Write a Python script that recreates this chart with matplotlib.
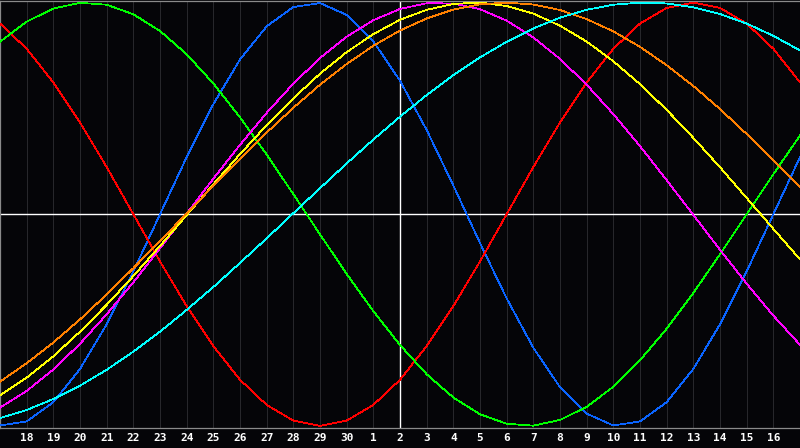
import matplotlib.pyplot as plt
import numpy as np

# day labels along the bottom (one per grid line)
day_labels = ['18', '19', '20', '21', '22', '23', '24', '25', '26', '27', '28', '29', '30',
              '1', '2', '3', '4', '5', '6', '7', '8', '9', '10', '11', '12', '13', '14', '15', '16']
today = '2'

# daily cycle values, left edge to right edge (31 days)
physical = [-0.998, -0.979, -0.888, -0.731, -0.520, -0.270, 0.000, 0.270, 0.520, 0.731, 0.888,
            0.979, 0.998, 0.942, 0.817, 0.631, 0.398, 0.136, -0.136, -0.398, -0.631, -0.817,
            -0.942, -0.998, -0.979, -0.888, -0.731, -0.520, -0.270, 0.000, 0.270]
emotional = [0.901, 0.782, 0.623, 0.434, 0.223, 0.000, -0.223, -0.434, -0.623, -0.782, -0.901,
             -0.975, -1.000, -0.975, -0.901, -0.782, -0.623, -0.434, -0.223, 0.000, 0.223, 0.434,
             0.623, 0.782, 0.901, 0.975, 1.000, 0.975, 0.901, 0.782, 0.623]
intellectual = [0.815, 0.910, 0.972, 0.999, 0.990, 0.945, 0.866, 0.756, 0.618, 0.458, 0.282,
                0.095, -0.095, -0.282, -0.458, -0.618, -0.756, -0.866, -0.945, -0.990, -0.999,
                -0.972, -0.910, -0.815, -0.690, -0.541, -0.372, -0.189, 0.000, 0.189, 0.372]
intuitive = [-0.914, -0.835, -0.734, -0.612, -0.473, -0.322, -0.161, 0.003, 0.168, 0.328, 0.479,
             0.617, 0.738, 0.839, 0.917, 0.970, 0.997, 0.996, 0.969, 0.915, 0.835, 0.734,
             0.612, 0.473, 0.322, 0.161, -0.003, -0.168, -0.328, -0.479, -0.617]
aesthetic = [-0.856, -0.772, -0.671, -0.555, -0.428, -0.292, -0.150, -0.004, 0.141, 0.284, 0.421,
             0.548, 0.664, 0.766, 0.851, 0.919, 0.966, 0.994, 1.000, 0.984, 0.948, 0.891,
             0.816, 0.723, 0.615, 0.493, 0.361, 0.222, 0.077, -0.069, -0.213]
awareness = [-0.791, -0.704, -0.606, -0.497, -0.379, -0.255, -0.127, 0.004, 0.134, 0.263, 0.386,
             0.503, 0.612, 0.710, 0.796, 0.868, 0.925, 0.967, 0.992, 1.000, 0.991, 0.965,
             0.922, 0.864, 0.791, 0.704, 0.606, 0.497, 0.379, 0.255, 0.127]
spiritual = [-0.963, -0.925, -0.873, -0.810, -0.735, -0.649, -0.555, -0.452, -0.344, -0.230, -0.114,
             0.005, 0.123, 0.240, 0.353, 0.461, 0.563, 0.657, 0.741, 0.815, 0.878, 0.929,
             0.966, 0.990, 1.000, 0.996, 0.978, 0.946, 0.901, 0.843, 0.774]

series = [
    (physical, '#0a64ff'),
    (emotional, '#ff0000'),
    (intellectual, '#00ff00'),
    (intuitive, '#ff00ff'),
    (aesthetic, '#ffff00'),
    (awareness, '#ff8000'),
    (spiritual, '#00ffff'),
]

bg = '#050508'
fig = plt.figure(figsize=(8, 4.48), dpi=100, facecolor=bg)
ax = fig.add_axes([0, 20 / 448, 1, 427.5 / 448])
ax.set_facecolor(bg)

n_days = len(physical)
x = np.arange(n_days)
ax.set_xlim(0, n_days - 1)
ax.set_ylim(-1.01, 1.01)

# day grid
tick_pos = np.arange(1, n_days - 1)
for p in tick_pos:
    ax.axvline(p, color='#2e2e33', lw=0.6, zorder=1)

# centre cross
ax.axhline(0, color='white', lw=1.0, zorder=2)
ax.axvline(tick_pos[day_labels.index(today)], color='white', lw=1.0, zorder=2)

for values, color in series:
    ax.plot(x, values, color=color, lw=0.55, antialiased=False, zorder=3)

ax.set_xticks(tick_pos)
ax.set_xticklabels(day_labels, color='white', fontweight='bold', fontsize=8,
                   family='DejaVu Sans Mono')
ax.tick_params(axis='x', length=0, pad=3.5)
ax.set_yticks([])

for side in ['left', 'top', 'bottom']:
    ax.spines[side].set_color('#8a8a8a')
    ax.spines[side].set_linewidth(0.9)
ax.spines['right'].set_visible(False)

fig.savefig('out.png', dpi=100, facecolor=bg)
